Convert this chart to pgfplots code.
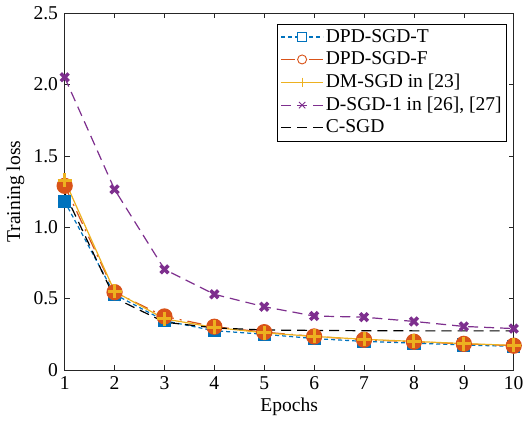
\documentclass[border=0pt]{standalone}
\usepackage{pgfplots}
\pgfplotsset{compat=1.18}
\usepackage{fontspec}
\setmainfont{Liberation Serif}

\definecolor{mblue}{rgb}{0,0.447,0.741}
\definecolor{morange}{rgb}{0.85,0.325,0.098}
\definecolor{myellow}{rgb}{0.929,0.694,0.125}
\definecolor{mpurple}{rgb}{0.494,0.184,0.556}
\definecolor{axgray}{rgb}{0.15,0.15,0.15}

\begin{document}
\fontsize{19.5}{23}\selectfont
\begin{tikzpicture}
\begin{axis}[
  scale only axis,
  width=448pt, height=356pt,
  xmin=1, xmax=10, ymin=0, ymax=2.5,
  xtick={1,...,10},
  ytick={0,0.5,1,1.5,2,2.5},
  yticklabels={0,0.5,1.0,1.5,2.0,2.5},
  /pgf/number format/assume math mode=true,
  tick align=inside,
  major tick length=5pt,
  axis line style={axgray, line width=0.6pt},
  every tick/.style={axgray, line width=0.6pt},
  xlabel={Epochs},
  ylabel={Training loss},
  xlabel style={yshift=5pt},
  ylabel style={yshift=-4pt},
  legend cell align=left,
  legend style={draw=black, line width=0.6pt, at={(0.985,0.97)}, anchor=north east,
    inner sep=3pt, row sep=2.5pt, font=\fontsize{19.5}{23}\selectfont},
  legend image code/.code={\draw[mark repeat=2,mark phase=2,#1,
      mark options={solid,fill=white,line width=0.9pt,mark size=4.5pt}]
      plot coordinates {(0pt,0pt)(21pt,0pt)(42pt,0pt)};},
]
\addplot[mblue, line width=1.2pt, dash pattern=on 4pt off 3pt,
  mark=square*, mark size=6pt, mark options={solid, fill=mblue}]
  coordinates {(1,1.18) (2,0.53) (3,0.345) (4,0.275) (5,0.25) (6,0.22) (7,0.20) (8,0.188) (9,0.175) (10,0.165)};
\addlegendentry{DPD-SGD-T}
\addplot[morange, line width=1.2pt, dash pattern=on 14pt off 6pt on 2pt off 6pt,
  mark=*, mark size=7.5pt, mark options={solid, fill=morange}]
  coordinates {(1,1.29) (2,0.545) (3,0.375) (4,0.303) (5,0.265) (6,0.235) (7,0.212) (8,0.198) (9,0.183) (10,0.17)};
\addlegendentry{DPD-SGD-F}
\addplot[myellow, line width=1.2pt,
  mark=+, mark size=7pt, mark options={solid, line width=3pt}]
  coordinates {(1,1.33) (2,0.55) (3,0.358) (4,0.298) (5,0.26) (6,0.235) (7,0.215) (8,0.2) (9,0.185) (10,0.172)};
\addlegendentry{DM-SGD in [23]}
\addplot[mpurple, line width=1.2pt, dash pattern=on 10pt off 6pt,
  mark=x, mark size=5.5pt, mark options={solid, line width=3.5pt}]
  coordinates {(1,2.05) (2,1.265) (3,0.705) (4,0.53) (5,0.443) (6,0.378) (7,0.37) (8,0.34) (9,0.305) (10,0.29)};
\addlegendentry{D-SGD-1 in [26], [27]}
\addplot[black, line width=1.2pt, dash pattern=on 10pt off 6pt]
  coordinates {(1,1.24) (2,0.505) (3,0.335) (4,0.295) (5,0.28) (6,0.277) (7,0.275) (8,0.274) (9,0.274) (10,0.274)};
\addlegendentry{C-SGD}
\end{axis}
\end{tikzpicture}
\end{document}
